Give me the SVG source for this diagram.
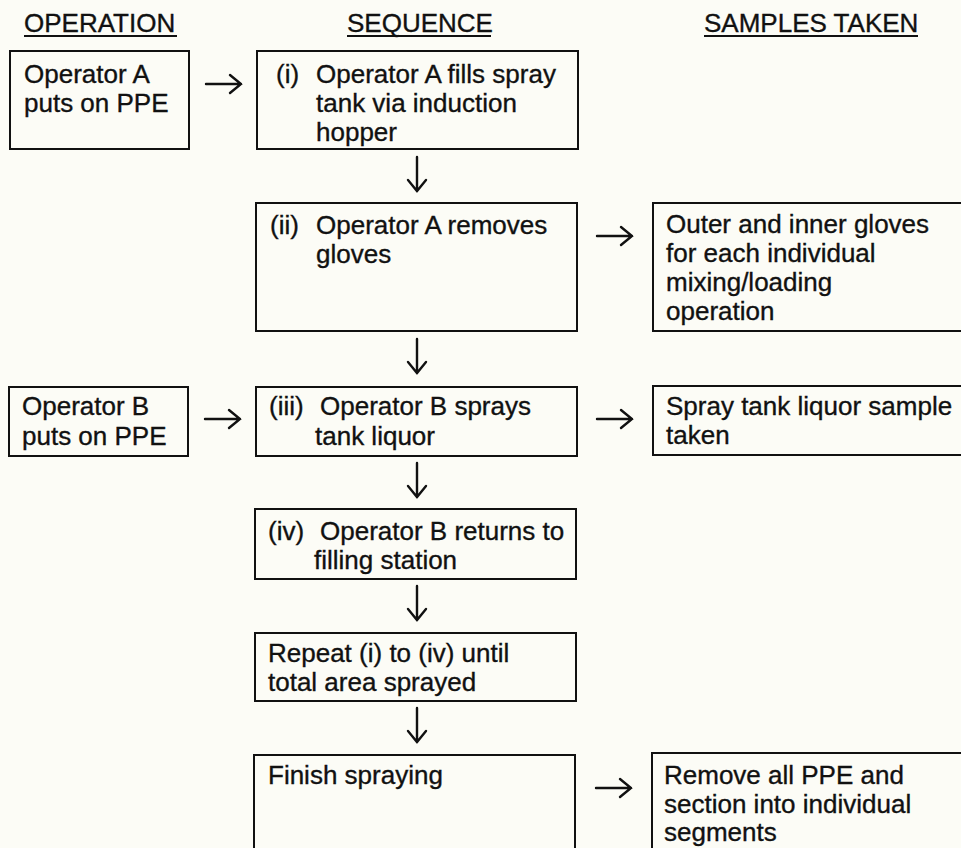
<svg xmlns="http://www.w3.org/2000/svg" width="961" height="848" viewBox="0 0 961 848">
<defs>
<style>
text{font-family:"Liberation Sans",Arial,sans-serif;font-size:26px;fill:#111;stroke:#111;stroke-width:0.35px;}
.box{fill:none;stroke:#111;stroke-width:2;}
.hd{stroke:#111;stroke-width:2;}
.arr{fill:none;stroke:#111;stroke-width:2.4;stroke-linecap:round;stroke-linejoin:miter;}
</style>
</defs>
<rect width="961" height="848" fill="#fcfcf6"/>
<g id="headers">
<text x="24" y="32">OPERATION</text><line class="hd" x1="24" y1="36" x2="177" y2="36"/>
<text x="347" y="32">SEQUENCE</text><line class="hd" x1="347" y1="36" x2="491" y2="36"/>
<text x="704" y="32">SAMPLES TAKEN</text><line class="hd" x1="704" y1="36" x2="918" y2="36"/>
</g>
<g id="opA"><rect class="box" x="10" y="51" width="179" height="98"/>
<text x="24" y="83">Operator A</text><text x="24" y="112">puts on PPE</text></g>
<g id="step1"><rect class="box" x="257" y="51" width="321" height="98"/>
<text x="276" y="83">(i)</text><text x="316" y="83">Operator A fills spray</text><text x="316" y="112">tank via induction</text><text x="316" y="141">hopper</text></g>
<g id="step2"><rect class="box" x="256" y="203" width="321" height="128"/>
<text x="270" y="234">(ii)</text><text x="316" y="234">Operator A removes</text><text x="316" y="263">gloves</text></g>
<g id="gloves"><rect class="box" x="653" y="203" width="320" height="128"/>
<text x="666" y="233">Outer and inner gloves</text><text x="666" y="262">for each individual</text><text x="666" y="291">mixing/loading</text><text x="666" y="320">operation</text></g>
<g id="opB"><rect class="box" x="9" y="387" width="179" height="69"/>
<text x="22" y="415">Operator B</text><text x="22" y="445">puts on PPE</text></g>
<g id="step3"><rect class="box" x="256" y="387" width="321" height="69"/>
<text x="269" y="415">(iii)</text><text x="320" y="415">Operator B sprays</text><text x="315" y="445">tank liquor</text></g>
<g id="liquor"><rect class="box" x="653" y="386" width="320" height="69"/>
<text x="666" y="415">Spray tank liquor sample</text><text x="666" y="444">taken</text></g>
<g id="step4"><rect class="box" x="255" y="509" width="321" height="70"/>
<text x="268" y="540">(iv)</text><text x="320" y="540">Operator B returns to</text><text x="314" y="569">filling station</text></g>
<g id="repeat"><rect class="box" x="255" y="633" width="321" height="68"/>
<text x="268" y="662">Repeat (i) to (iv) until</text><text x="268" y="691">total area sprayed</text></g>
<g id="finish"><rect class="box" x="254" y="755" width="321" height="110"/>
<text x="268" y="784">Finish spraying</text></g>
<g id="remove"><rect class="box" x="652" y="753" width="320" height="110"/>
<text x="664" y="784">Remove all PPE and</text><text x="664" y="813">section into individual</text><text x="664" y="841">segments</text></g>
<g id="connectors">
<path class="arr" d="M206 84H241M230 75L241 84L230 93"/>
<path class="arr" d="M417 157V191M408 180L417 191L426 180"/>
<path class="arr" d="M597 236H632M621 227L632 236L621 245"/>
<path class="arr" d="M417 339V373M408 362L417 373L426 362"/>
<path class="arr" d="M205 419H240M229 410L240 419L229 428"/>
<path class="arr" d="M597 419H632M621 410L632 419L621 428"/>
<path class="arr" d="M417 463V497M408 486L417 497L426 486"/>
<path class="arr" d="M417 586V620M408 609L417 620L426 609"/>
<path class="arr" d="M417 708V742M408 731L417 742L426 731"/>
<path class="arr" d="M596 788H631M620 779L631 788L620 797"/>
</g>
</svg>
